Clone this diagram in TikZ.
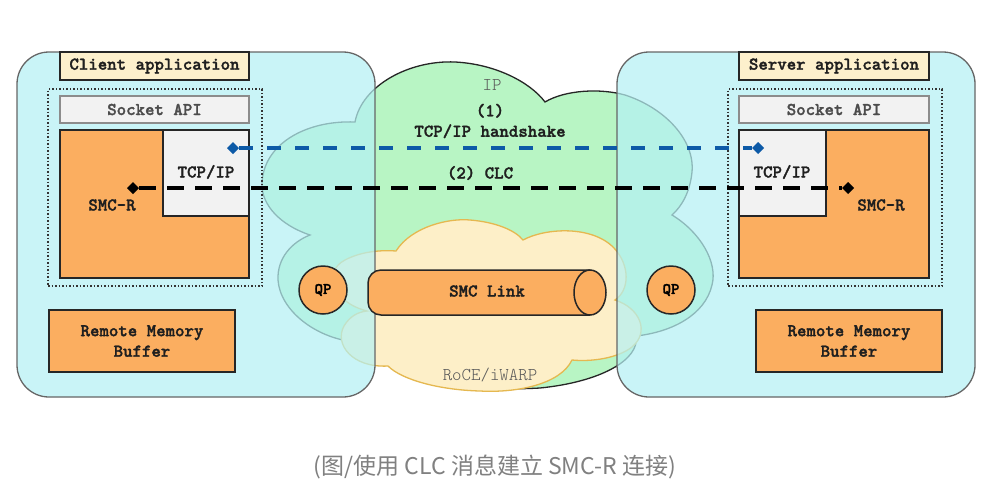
\documentclass[tikz,border=0pt]{standalone}
\usepackage{fontspec}
\setmonofont{lmmonolt10-regular.otf}[BoldFont=lmmonolt10-bold.otf, BoldFeatures={FakeBold=1.6}]
\newfontfamily\cjk{Noto Sans CJK SC}
\usetikzlibrary{shapes.geometric}
\definecolor{cyanbg}{HTML}{B5F1F4}
\definecolor{greenc}{HTML}{B8F5C4}
\definecolor{rocef}{HTML}{FDEFC8}
\definecolor{rocel}{HTML}{E5B850}
\definecolor{orng}{HTML}{FBAE60}
\definecolor{cream}{HTML}{FDF0CC}
\definecolor{lgray}{HTML}{F2F2F2}
\definecolor{dblue}{HTML}{0D5AA7}
\begin{document}
\begin{tikzpicture}[x=1pt,y=-1pt,
  lbl/.style={font=\ttfamily\bfseries\fontsize{18}{20.5}\selectfont, text=black!88, align=center},
  thin lbl/.style={font=\ttfamily\fontsize{18}{20.5}\selectfont, text=black!65},
  appbox/.style={draw=black!60, line width=1.3pt, fill=cyanbg, fill opacity=0.72, rounded corners=32pt, inner sep=0pt, outer sep=0pt, anchor=north west},
  rbox/.style={draw=black!85, line width=1.4pt, inner sep=0pt, outer sep=0pt, anchor=north west},
  dotbox/.style={draw=black!80, dotted, line width=1.5pt, inner sep=0pt, outer sep=0pt, anchor=north west},
  qp/.style={circle, draw=black!85, line width=1.5pt, fill=orng, minimum size=48pt, inner sep=0pt, font=\ttfamily\bfseries\fontsize{16}{18}\selectfont},
  dmd/.style={diamond, fill=#1, minimum size=12pt, inner sep=0pt, outer sep=0pt},
  dline/.style={line width=4pt}
]
\useasboundingbox (0,0) rectangle (987,493);
\fill[white] (0,0) rectangle (987,493);

% IP cloud
\draw[fill=greenc, draw=black!85, line width=1.3pt] (355,122)
 .. controls (362,85) and (410,60) .. (455,62)
 .. controls (495,64) and (530,82) .. (545,102)
 .. controls (565,90) and (600,88) .. (625,95)
 .. controls (665,108) and (695,140) .. (692,172)
 .. controls (690,192) and (682,206) .. (672,215)
 .. controls (700,232) and (718,262) .. (712,285)
 .. controls (705,315) and (672,332) .. (636,336)
 .. controls (640,360) and (600,382) .. (540,388)
 .. controls (470,392) and (400,380) .. (355,342)
 .. controls (315,338) and (280,310) .. (278,280)
 .. controls (277,258) and (292,242) .. (310,235)
 .. controls (280,225) and (262,205) .. (262,185)
 .. controls (262,145) and (305,120) .. cycle;

% RoCE cloud
\draw[fill=rocef, draw=rocel, line width=1.3pt] (523,240)
 .. controls (545,228) and (592,225) .. (614,248)
 .. controls (630,265) and (630,290) .. (615,300)
 .. controls (640,308) and (650,332) .. (632,347)
 .. controls (618,358) and (592,362) .. (572,360)
 .. controls (560,385) and (515,393) .. (480,391)
 .. controls (440,390) and (402,380) .. (388,366)
 .. controls (352,368) and (334,344) .. (344,326)
 .. controls (350,316) and (358,312) .. (367,311)
 .. controls (332,302) and (322,272) .. (345,260)
 .. controls (362,251) and (382,250) .. (396,251)
 .. controls (412,226) and (450,218) .. (470,220)
 .. controls (495,222) and (515,230) .. cycle;

% application boxes
\node[appbox, minimum width=358pt, minimum height=345pt] (capp) at (17,52) {};
\node[appbox, minimum width=358pt, minimum height=345pt] (sapp) at (617,52) {};

% client side
\node[rbox, fill=cream, minimum width=189pt, minimum height=28pt] (clab) at (60,52) {};
\node[lbl] at (clab.center) {Client application};
\node[dotbox, minimum width=214pt, minimum height=197pt] (cdot) at (48,89) {};
\node[rbox, draw=black!45, fill=lgray, minimum width=189pt, minimum height=27pt] (csock) at (60,96) {};
\node[lbl, text=black!70] at (csock.center) {Socket API};
\node[rbox, fill=orng, minimum width=189pt, minimum height=148pt] (csmc) at (60,130) {};
\node[rbox, fill=lgray, minimum width=86pt, minimum height=86pt] (ctcp) at (163,130) {};
\node[lbl] at (206,172) {TCP/IP};
\node[lbl] at (112,205) {SMC-R};
\node[rbox, fill=orng, minimum width=186pt, minimum height=62pt] (crmb) at (49,310) {};
\node[lbl] at (crmb.center) {Remote Memory\\Buffer};

% server side
\node[rbox, fill=cream, minimum width=190pt, minimum height=28pt] (slab) at (739,52) {};
\node[lbl] at (slab.center) {Server application};
\node[dotbox, minimum width=214pt, minimum height=197pt] (sdot) at (728,89) {};
\node[rbox, draw=black!45, fill=lgray, minimum width=190pt, minimum height=27pt] (ssock) at (739,96) {};
\node[lbl, text=black!70] at (ssock.center) {Socket API};
\node[rbox, fill=orng, minimum width=190pt, minimum height=148pt] (ssmc) at (739,130) {};
\node[rbox, fill=lgray, minimum width=87pt, minimum height=86pt] (stcp) at (739,130) {};
\node[lbl] at (782,172) {TCP/IP};
\node[lbl] at (881,205) {SMC-R};
\node[rbox, fill=orng, minimum width=186pt, minimum height=62pt] (srmb) at (756,310) {};
\node[lbl] at (srmb.center) {Remote Memory\\Buffer};

% SMC link cylinder
\draw[fill=orng, draw=black!85, line width=1.5pt] (590,270) -- (381,270)
  arc[start angle=-90, end angle=-180, radius=13] -- (368,302)
  arc[start angle=180, end angle=90, radius=13] -- (590,315);
\draw[fill=orng, draw=black!85, line width=1.5pt] (590,292.5) ellipse [x radius=16, y radius=22.5];
\node[lbl] (link) at (487,291) {SMC Link};

% QPs
\node[qp] (qpl) at (323,290) {QP};
\node[qp] (qpr) at (671,290) {QP};

% cloud labels
\node[thin lbl] (ip) at (492,85) {IP};
\node[thin lbl] (roce) at (490,375) {RoCE/iWARP};
\node[lbl] (hs) at (490,121) {(1)\\TCP/IP handshake};
\node[lbl] (clc) at (480,173) {(2) CLC};

% handshake lines
\node[dmd=dblue] (b1) at (233,148) {};
\node[dmd=dblue] (b2) at (758,148) {};
\node[dmd=black] (k1) at (133,188) {};
\node[dmd=black] (k2) at (848,188) {};
\draw[dline, dblue, dash pattern=on 14pt off 14pt] (b1) -- (b2);
\draw[dline, black, dash pattern=on 17pt off 11pt] (k1) -- (k2);

% caption
\node[font=\cjk\fontsize{23}{26}\selectfont, text=black!50] (cap) at (495,467) {(图/使用 CLC 消息建立 SMC-R 连接)};
\end{tikzpicture}
\end{document}
